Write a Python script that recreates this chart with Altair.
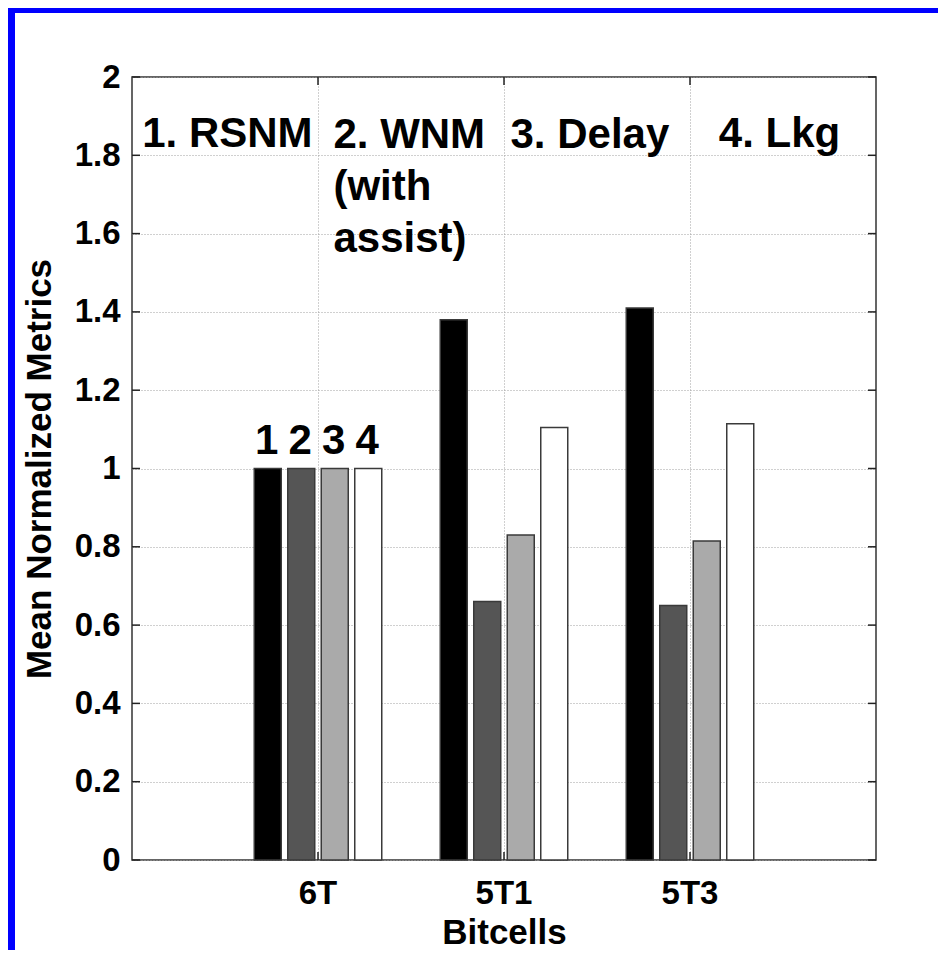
import altair as alt
import pandas as pd

# ---------------- data ----------------
cells = ["6T", "5T1", "5T3"]
metric_keys = ["m1", "m2", "m3", "m4"]
metric_nums = ["1", "2", "3", "4"]
rsnm = [1.00, 1.38, 1.41]
wnm = [1.00, 0.66, 0.65]
delay = [1.00, 0.83, 0.815]
lkg = [1.00, 1.105, 1.114]
bar_colors = ["#000000", "#555555", "#aaaaaa", "#ffffff"]

y_ticks = [0, 0.2, 0.4, 0.6, 0.8, 1.0, 1.2, 1.4, 1.6, 1.8, 2.0]

ann_text = ["1. RSNM", "2. WNM", "(with", "assist)", "3. Delay", "4. Lkg"]
ann_x = [0.055, 1.083, 1.083, 1.083, 2.035, 3.155]
ann_y = [1.822, 1.818, 1.686, 1.554, 1.818, 1.820]

# ---------------- tables ----------------
rows = []
for series, key, num in zip([rsnm, wnm, delay, lkg], metric_keys, metric_nums):
    for c, v in zip(cells, series):
        rows.append({"cell": c, "metric": key, "num": num, "value": v})
bars_df = pd.DataFrame(rows)
ytick_df = pd.DataFrame({"v": y_ticks})
xtick_df = pd.DataFrame({"cell": cells})
ann_df = pd.DataFrame({"t": ann_text, "ax": ann_x, "ay": ann_y})

W, H = 744, 783
FONT = "Liberation Sans"


def x_scale():
    return alt.Scale(domain=cells, paddingInner=0, paddingOuter=0.5)


def xo_scale():
    return alt.Scale(domain=metric_keys, paddingInner=0.194, paddingOuter=0.873)


def y_scale():
    return alt.Scale(domain=[0, 2], nice=False, zero=True)


y_axis = alt.Axis(
    values=y_ticks, format="~g", title="Mean Normalized Metrics",
    grid=True, ticks=False, domain=False, labelPadding=12,
    labelFontSize=33, titleFontSize=35, titlePadding=17,
)

bars = alt.Chart(bars_df).mark_bar(stroke="#3a3a3a", strokeWidth=1.5).encode(
    x=alt.X("cell:N", sort=cells, scale=x_scale(),
            axis=alt.Axis(title="Bitcells", grid=True, bandPosition=0.5,
                          ticks=False, domain=False, labelAngle=0,
                          labelPadding=17, labelFontSize=33,
                          titleFontSize=35, titlePadding=5)),
    xOffset=alt.XOffset("metric:N", sort=metric_keys, scale=xo_scale()),
    y=alt.Y("value:Q", scale=y_scale(), axis=y_axis),
    fill=alt.Fill("metric:N", scale=alt.Scale(domain=metric_keys, range=bar_colors),
                  legend=None),
)

digits = alt.Chart(bars_df).transform_filter(alt.datum.cell == "6T").mark_text(
    font=FONT, fontWeight="bold", fontSize=42, baseline="alphabetic",
    align="center", dy=-14.5, dx=-1, color="black",
).encode(
    x=alt.X("cell:N", sort=cells, scale=x_scale(), axis=None),
    xOffset=alt.XOffset("metric:N", sort=metric_keys, scale=xo_scale()),
    y=alt.Y("value:Q", scale=y_scale(), axis=y_axis),
    text="num:N",
)

ann = alt.Chart(ann_df).mark_text(
    font=FONT, fontWeight="bold", fontSize=42, baseline="alphabetic",
    align="left", color="black",
).encode(
    x=alt.X("ax:Q", scale=alt.Scale(domain=[0, 4], nice=False, zero=False), axis=None),
    y=alt.Y("ay:Q", scale=y_scale(), axis=y_axis),
    text="t:N",
)

ytick_left = alt.Chart(ytick_df).mark_rule(color="#222222", strokeWidth=1.5).encode(
    y=alt.Y("v:Q", scale=y_scale(), axis=y_axis),
    x=alt.value(0), x2=alt.value(8),
)
ytick_right = alt.Chart(ytick_df).mark_rule(color="#222222", strokeWidth=1.5).encode(
    y=alt.Y("v:Q", scale=y_scale(), axis=y_axis),
    x=alt.value(W - 8), x2=alt.value(W),
)
xtick_bottom = alt.Chart(xtick_df).mark_rule(color="#222222", strokeWidth=1.5).encode(
    x=alt.X("cell:N", sort=cells, scale=x_scale(), axis=None),
    y=alt.value(H - 8), y2=alt.value(H),
)
xtick_top = alt.Chart(xtick_df).mark_rule(color="#222222", strokeWidth=1.5).encode(
    x=alt.X("cell:N", sort=cells, scale=x_scale(), axis=None),
    y=alt.value(0), y2=alt.value(8),
)

one = pd.DataFrame({"k": [0]})
blue_left = alt.Chart(one).mark_rect(color="#0000ff").encode(
    x=alt.value(-124), x2=alt.value(-117), y=alt.value(-69), y2=alt.value(H + 90),
)
blue_top = alt.Chart(one).mark_rect(color="#0000ff").encode(
    x=alt.value(-124), x2=alt.value(W + 62), y=alt.value(-69), y2=alt.value(-64),
)

chart = alt.layer(
    bars, digits, ann, ytick_left, ytick_right, xtick_bottom, xtick_top,
    blue_left, blue_top,
).resolve_scale(x="independent").properties(
    width=W, height=H,
    autosize=alt.AutoSizeParams(type="none"),
    padding={"left": 124, "top": 69, "right": 62, "bottom": 90},
    background="white",
).configure_view(
    stroke="#333333", strokeWidth=1.5,
).configure_axis(
    labelFont=FONT, titleFont=FONT, labelFontWeight="bold", titleFontWeight="bold",
    labelColor="black", titleColor="black",
    gridColor="#a0a0a0", gridDash=[1, 2], gridWidth=1,
)

chart.save("out.html", embed_options={"renderer": "svg", "actions": False})
